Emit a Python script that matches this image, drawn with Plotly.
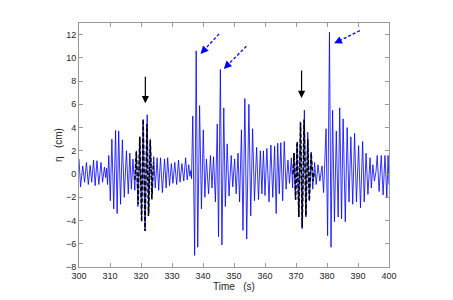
import plotly.graph_objects as go

t_meas = [300.0, 300.5, 301.2, 301.8, 302.4, 303.0, 303.6, 304.1, 304.7, 305.2,
          305.8, 306.4, 307.1, 307.6, 308.2, 308.6, 308.9, 309.2, 309.6, 310.1,
          310.6, 311.2, 311.8, 312.3, 312.8, 313.4, 314.0, 314.6, 315.3, 315.9,
          316.4, 316.9, 317.4, 318.0, 318.5, 319.0, 319.6, 320.2, 320.7, 321.3,
          322.0, 322.5, 323.0, 323.6, 324.1, 324.6, 325.2, 325.7, 326.3, 326.9,
          327.6, 328.1, 328.6, 329.2, 329.8, 330.3, 330.9, 331.5, 332.1, 332.6,
          333.2, 333.8, 334.4, 334.9, 335.4, 335.8, 336.1, 336.3, 336.7, 337.3,
          337.8, 338.3, 338.9, 339.5, 340.1, 340.6, 341.1, 341.8, 342.4, 342.9,
          343.4, 344.0, 344.6, 345.0, 345.6, 346.1, 346.7, 347.2, 347.8, 348.4,
          349.1, 349.6, 350.2, 350.7, 351.3, 351.8, 352.4, 352.9, 353.5, 354.1,
          354.8, 355.4, 356.0, 356.6, 357.3, 357.9, 358.5, 359.0, 359.5, 360.0,
          360.6, 361.3, 361.9, 362.5, 363.1, 363.6, 364.1, 364.6, 365.1, 365.7,
          366.2, 366.8, 367.4, 367.9, 368.5, 368.9, 369.3, 369.8, 370.3, 370.9,
          371.4, 372.0, 372.7, 373.2, 373.8, 374.3, 374.9, 375.4, 376.0, 376.5,
          377.1, 377.7, 378.4, 378.9, 379.7, 380.2, 380.8, 381.3, 381.8, 382.4,
          383.0, 383.6, 384.1, 384.7, 385.2, 385.9, 386.5, 387.1, 387.7, 388.3,
          388.9, 389.5, 390.2, 390.8, 391.5, 392.0, 392.6, 393.2, 393.9, 394.3,
          394.8, 395.3, 395.8, 396.2, 396.8, 397.5, 398.1, 398.7, 399.3, 399.7,
          400.0]
eta_meas = [1.3, -1.1, 0.7, -0.7, 1.0, -0.9, 0.75, -0.7, 1.2, -1.0,
            1.15, -0.9, 1.0, -0.7, 0.6, -0.3, 0.5, -0.9, 1.6, -2.3,
            3.0, -3.0, 3.75, -3.4, 3.7, -2.6, 2.95, -2.0, 2.0, -1.7,
            1.8, -1.3, 1.3, -1.4, 2.0, -2.8, 3.2, -4.0, 4.7, -4.9,
            5.1, -3.4, 3.0, -1.8, 1.5, -1.2, 1.4, -1.4, 1.4, -1.6,
            1.3, -1.2, 1.4, -1.0, 0.9, -0.8, 1.0, -0.9, 1.2, -0.7,
            0.9, -0.6, 1.4, -0.5, 0.8, -0.2, 0.3, -0.4, 5.0, -7.0,
            10.6, -6.3, 5.9, -3.0, 3.8, -2.0, 1.3, -1.7, 1.6, -1.2,
            1.5, -2.4, 4.3, -5.4, 9.0, -6.1, 5.7, -2.8, 2.6, -1.9,
            1.6, -1.1, 1.3, -1.7, 1.8, -2.4, 3.8, -4.85, 6.5, -5.6,
            6.0, -3.6, 3.9, -2.3, 2.3, -2.2, 2.0, -1.7, 2.0, -1.85,
            2.2, -2.4, 2.5, -2.0, 2.4, -3.4, 2.65, -1.7, 2.7, -2.3,
            2.8, -1.3, 1.2, -0.8, 1.4, -1.2, 1.8, -2.2, 2.6, -3.7,
            4.5, -4.7, 5.5, -3.7, 3.6, -2.3, 1.9, -1.3, 1.0, -0.9,
            0.8, -0.6, 0.7, -1.6, 3.9, -5.3, 12.2, -6.3, 5.5, -4.1,
            3.7, -3.7, 5.7, -3.85, 4.75, -4.1, 4.0, -2.4, 3.2, -2.6,
            3.5, -2.4, 2.45, -2.9, 2.8, -2.4, 1.8, -1.75, 1.4, -1.2,
            0.8, -0.6, 0.2, 1.6, -1.5, 1.6, -1.8, 1.6, -2.0, 1.6,
            -0.9]

# Model wave groups (black dashed)
t_model1 = [318.0, 318.5, 319.1, 319.6, 320.2, 320.7, 321.3, 321.9, 322.4, 323.0, 323.5, 324.0]
eta_model1 = [-0.5, 1.9, -2.6, 3.2, -4.1, 4.7, -4.9, 4.3, -3.6, 2.9, -2.2, 1.0]
t_model2 = [369.0, 369.4, 369.9, 370.4, 370.9, 371.5, 372.0, 372.6, 373.2, 373.8, 374.3, 374.9, 375.5, 376.0]
eta_model2 = [0.0, 1.8, -2.2, 2.8, -3.7, 4.4, -4.6, 4.7, -3.6, 3.0, -2.3, 1.8, -0.6, 0.3]

# Arrows (tail -> head), data coordinates
black_arrow_t = [321.4, 371.8]
black_arrow_tail = [8.5, 9.05]
black_arrow_head = [6.1, 6.55]
blue_arrow_tail_t = [345.2, 354.0, 390.6]
blue_arrow_tail_eta = [12.06, 11.0, 12.34]
blue_arrow_head_t = [339.2, 346.7, 382.3]
blue_arrow_head_eta = [10.34, 9.05, 11.25]

x_ticks = list(range(300, 401, 10))
y_ticks = list(range(-8, 13, 2))

fig = go.Figure()
fig.add_trace(go.Scatter(x=t_meas, y=eta_meas, mode="lines",
                         line=dict(color="#0000ff", width=0.8), showlegend=False))
for tm, em in [(t_model1, eta_model1), (t_model2, eta_model2)]:
    fig.add_trace(go.Scatter(x=tm, y=em, mode="lines",
                             line=dict(color="black", width=1.5, dash="4px,2px"),
                             showlegend=False))

for tx, ty0, ty1 in zip(black_arrow_t, black_arrow_tail, black_arrow_head):
    fig.add_annotation(x=tx, y=ty1, ax=tx, ay=ty0, xref="x", yref="y",
                       axref="x", ayref="y", text="", showarrow=True,
                       arrowhead=2, arrowsize=1.2, arrowwidth=1.2, arrowcolor="black")

for x0, y0, x1, y1 in zip(blue_arrow_tail_t, blue_arrow_tail_eta,
                          blue_arrow_head_t, blue_arrow_head_eta):
    fig.add_shape(type="line", x0=x0, y0=y0, x1=x1 + (x0 - x1) * 0.12,
                  y1=y1 + (y0 - y1) * 0.12, xref="x", yref="y",
                  line=dict(color="#0000ff", width=1.3, dash="3px,2px"))
    fig.add_annotation(x=x1, y=y1, ax=x1 + (x0 - x1) * 0.2, ay=y1 + (y0 - y1) * 0.2,
                       xref="x", yref="y", axref="x", ayref="y", text="",
                       showarrow=True, arrowhead=2, arrowsize=1.2, arrowwidth=1.3,
                       arrowcolor="#0000ff")

axis_common = dict(showline=True, linecolor="#9a9a9a", linewidth=1, mirror="ticks",
                   ticks="inside", ticklen=4, tickcolor="#9a9a9a", showgrid=False,
                   zeroline=False, automargin=False,
                   tickfont=dict(family="Liberation Sans, Arial", size=9, color="#262626"))
fig.update_xaxes(range=[300, 400], tickvals=x_ticks, **axis_common,
                 title=dict(text="Time\u00a0\u00a0\u00a0(s)", standoff=1,
                            font=dict(family="Liberation Sans, Arial", size=10,
                                      color="#262626")))
fig.update_yaxes(range=[-8, 13], tickvals=y_ticks, **axis_common,
                 title=dict(text="η\u00a0\u00a0\u00a0(cm)", standoff=1,
                            font=dict(family="Liberation Sans, Arial", size=10,
                                      color="#262626")))
# page body adds an 8px offset; margins compensate so the plot box lands where the reference has it
fig.update_layout(width=453, height=300, margin=dict(l=71, r=72, t=15, b=41, autoexpand=False),
                  paper_bgcolor="white", plot_bgcolor="white")
fig.write_html("out.html")
